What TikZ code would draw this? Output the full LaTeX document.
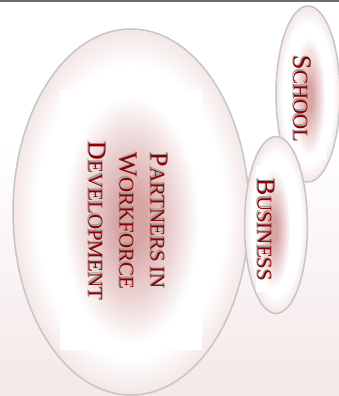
\documentclass[tikz,border=0pt]{standalone}
\usepackage{fontspec}
\setmainfont{Liberation Serif}
\usetikzlibrary{shapes.geometric}
\definecolor{textred}{RGB}{139,0,0}
\definecolor{rimgray}{RGB}{198,198,198}
\definecolor{glowpink}{RGB}{216,164,164}
\definecolor{rimpink}{RGB}{244,230,230}
\definecolor{bgpink}{RGB}{244,232,232}
\definecolor{topgray}{RGB}{110,110,110}
\pgfdeclareradialshading{rimglow}{\pgfpoint{0bp}{0bp}}{color(0bp)=(white); color(20bp)=(white); color(25bp)=(rimpink); color(50bp)=(rimpink)}
\pgfdeclareradialshading{boxglow}{\pgfpoint{0bp}{0bp}}{color(0bp)=(glowpink); color(5bp)=(glowpink); color(24bp)=(white); color(50bp)=(white)}
\newcommand\capword[2]{{\fontsize{26}{31}\selectfont #1}{\fontsize{21}{31}\selectfont #2}}
\begin{document}
\begin{tikzpicture}[x=1pt,y={(0pt,-1pt)},
    bubble/.style={ellipse,draw=rimgray,line width=1.5pt,shade,shading=rimglow,inner sep=0pt},
    glowbox/.style={rectangle,shade,shading=boxglow,inner sep=0pt},
    label/.style={rotate=-90,align=center,text=textred,font=\fontsize{26}{31}\selectfont},
    labelshadow/.style={label,text=gray!75,xshift=-1.5pt,yshift=-1pt}]
  \useasboundingbox (0,0) rectangle (339,396);
  % background
  \fill[white] (0,0) rectangle (339,140);
  \shade[top color=white,bottom color=bgpink] (0,140) rectangle (339,396);
  \draw[topgray,line width=2pt] (0,1) -- (339,1);
  % partners
  \node[bubble,minimum width=236pt,minimum height=366pt] (partners) at (131,212) {};
  \node[glowbox,minimum width=142pt,minimum height=259pt] (partnersbox) at (131,220) {};
  \node[labelshadow] (partnersshadow) at (128,221) {\capword{P}{ARTNERS IN}\\\capword{W}{ORKFORCE}\\\capword{D}{EVELOPMENT}};
  \node[label] (partnerstext) at (128,221) {\capword{P}{ARTNERS IN}\\\capword{W}{ORKFORCE}\\\capword{D}{EVELOPMENT}};
  % school
  \node[bubble,minimum width=64pt,minimum height=176pt] (school) at (308,94) {};
  \node[glowbox,minimum width=34pt,minimum height=125pt] (schoolbox) at (309,97) {};
  \node[labelshadow] (schoolshadow) at (302,99) {\capword{S}{CHOOL}};
  \node[label] (schooltext) at (302,99) {\capword{S}{CHOOL}};
  % business
  \node[bubble,minimum width=63pt,minimum height=177pt] (business) at (276,225) {};
  \node[glowbox,minimum width=35pt,minimum height=125pt] (businessbox) at (273.5,228.5) {};
  \node[labelshadow] (businessshadow) at (266,230) {\capword{B}{USINESS}};
  \node[label] (businesstext) at (266,230) {\capword{B}{USINESS}};
\end{tikzpicture}
\end{document}
